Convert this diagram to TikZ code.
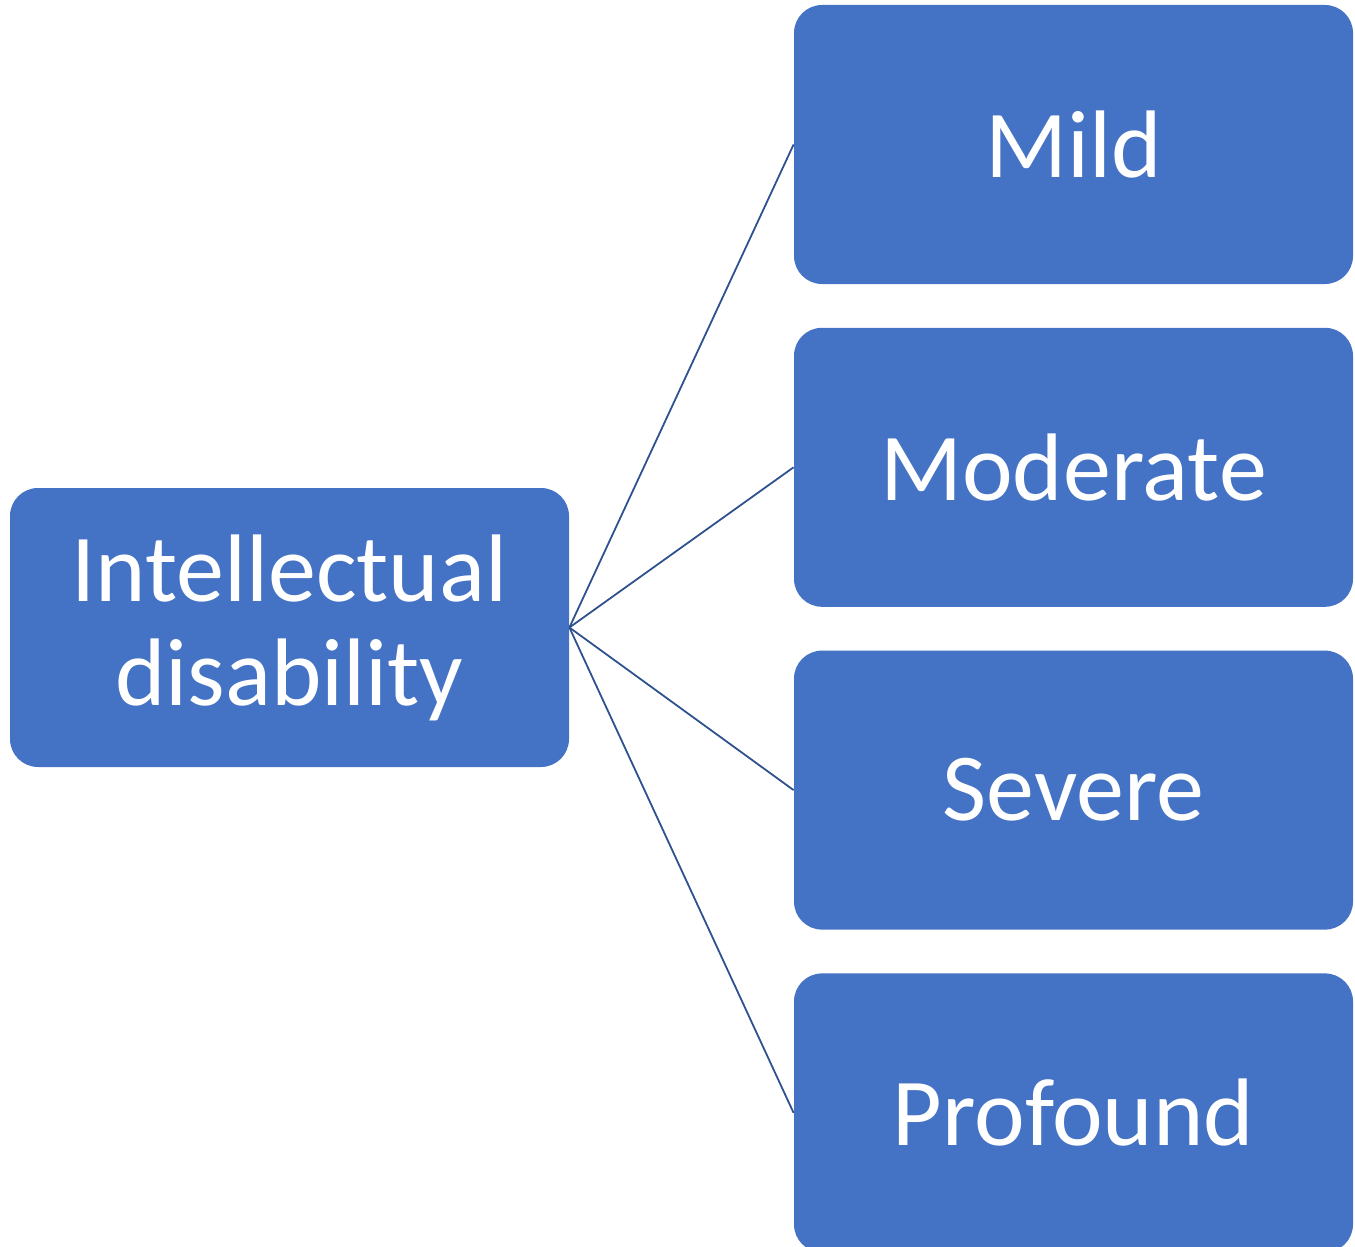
\documentclass[tikz,border=0pt]{standalone}
\usepackage{fontspec}
\setmainfont{Carlito}
\usetikzlibrary{positioning}
\definecolor{boxblue}{HTML}{4472C4}
\definecolor{lineblue}{HTML}{2F528F}
\tikzset{
  levelbox/.style={fill=boxblue, draw=none, rounded corners=14pt,
    minimum width=279.5pt, minimum height=139.5pt, text=white,
    align=center, font=\fontsize{48}{52}\selectfont, inner sep=0pt},
  branch/.style={draw=lineblue, line width=0.9pt}
}
\begin{document}
\begin{tikzpicture}
            \useasboundingbox (0,0) rectangle (677.5pt,-623.5pt);
            \node[levelbox] (id) at (144.75pt,-313.75pt) {Intellectual\\disability};
            \node[levelbox] (mild) at (536.75pt,-72.25pt) {Mild};
            \node[levelbox, below=21.5pt of mild] (moderate) {Moderate};
            \node[levelbox, below=21.5pt of moderate] (severe) {Severe};
            \node[levelbox, below=21.5pt of severe] (profound) {Profound};
            \foreach \n in {mild,moderate,severe,profound}
              \draw[branch] (id.east) -- (\n.west);
        \end{tikzpicture}
\end{document}
